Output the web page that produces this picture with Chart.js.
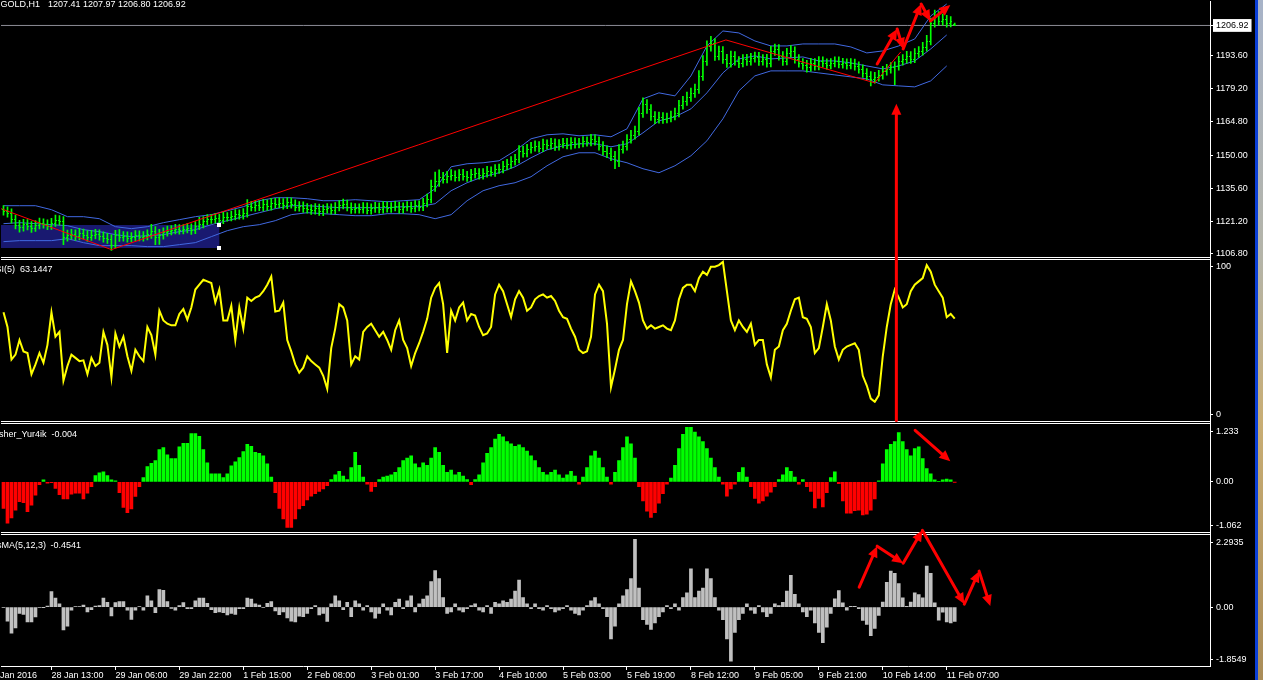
<!DOCTYPE html>
<html><head>
<meta charset="UTF-8">
<title>GOLD,H1</title>
<script src="https://cdn.jsdelivr.net/npm/chart.js"></script>
<style>
  html, body { margin: 0; padding: 0; background: #000; overflow: hidden; }
  #wrap { position: relative; width: 1263px; height: 680px; }
  #chart { position: absolute; left: 0; top: 0; }
  #edge { position: absolute; left: 1255px; top: 0; width: 8px; height: 680px;
    background: linear-gradient(to right, #0b3fd6 0, #0b3fd6 3px, transparent 3px),
                linear-gradient(to bottom, #a7b3c8 0%, #b4b4a8 38%, #c8ad74 62%, #a98c58 100%); }
</style>
</head>
<body>
<div id="wrap"><canvas id="chart" width="1255" height="680"></canvas><div id="edge"></div></div>
<script>
// ---- time axis (bar index of each label) ----
const timeTickIdx = [-4, 12, 28, 44, 60, 76, 92, 108, 124, 140, 156, 172, 188, 204, 220, 236];
const timeLabels = ['27 Jan 2016', '28 Jan 13:00', '29 Jan 06:00', '29 Jan 22:00', '1 Feb 15:00',
  '2 Feb 08:00', '3 Feb 01:00', '3 Feb 17:00', '4 Feb 10:00', '5 Feb 03:00', '5 Feb 19:00',
  '8 Feb 12:00', '9 Feb 05:00', '9 Feb 21:00', '10 Feb 14:00', '11 Feb 07:00'];

// ---- right scale labels ----
const priceTicks = [1206.92, 1193.60, 1179.20, 1164.80, 1150.00, 1135.60, 1121.20, 1106.80];
const rsiTicks = [95.3, 4.3];
const rsiTickLabels = ['100', '0'];
const fishTicks = [1.071, 0, -0.930];
const fishTickLabels = ['1.233', '0.00', '-1.062'];
const osmaTicks = [2.042, 0, -1.644];
const osmaTickLabels = ['2.2935', '0.00', '-1.8549'];

// ---- GOLD H1 bars ----
const open = [
  1126.3,1125.6,1124.8,1122.1,1119.5,1118.6,1119.9,1119.1,1118.2,1119.5,
  1120.4,1119.9,1119.1,1120.4,1121.7,1121.3,1114.3,1115.1,1115.6,1114.7,
  1116.0,1115.1,1114.3,1115.1,1115.6,1114.7,1113.8,1113.4,1110.7,1115.1,
  1114.3,1114.7,1113.8,1114.3,1115.1,1114.3,1114.7,1115.6,1116.9,1114.3,
  1115.1,1116.4,1116.9,1117.3,1117.8,1117.3,1117.8,1118.2,1117.3,1119.1,
  1119.9,1121.3,1122.1,1122.1,1122.6,1121.7,1123.0,1123.0,1123.5,1124.3,
  1123.9,1124.8,1127.8,1127.4,1128.3,1127.4,1128.7,1127.8,1129.2,1128.7,
  1129.2,1128.3,1129.6,1128.7,1127.4,1127.8,1126.9,1126.5,1126.1,1126.9,
  1125.6,1126.5,1126.9,1126.1,1127.4,1128.3,1128.7,1127.4,1126.5,1126.9,
  1126.5,1127.4,1126.1,1126.9,1127.4,1126.5,1127.8,1126.9,1127.4,1127.8,
  1126.5,1127.4,1127.8,1126.9,1128.3,1127.4,1129.2,1130.9,1136.6,1138.8,
  1140.6,1139.7,1141.0,1141.4,1140.6,1141.9,1141.0,1140.6,1141.9,1142.3,
  1141.4,1142.3,1143.2,1142.7,1144.1,1144.1,1145.4,1146.2,1147.6,1148.4,
  1152.0,1151.1,1152.8,1153.7,1154.1,1153.3,1155.0,1154.6,1155.5,1154.1,
  1155.0,1155.5,1154.6,1155.9,1155.0,1155.5,1156.3,1155.9,1157.2,1156.3,
  1154.1,1152.0,1151.1,1149.8,1147.6,1152.8,1154.1,1157.2,1159.0,1160.7,
  1168.6,1172.6,1170.4,1167.3,1166.0,1166.9,1166.0,1166.4,1167.3,1168.6,
  1172.1,1173.9,1175.6,1177.4,1179.1,1184.8,1191.4,1198.0,1199.3,1193.6,
  1195.8,1192.3,1190.5,1193.6,1191.4,1190.5,1192.3,1191.4,1192.7,1193.2,
  1191.4,1192.3,1190.5,1195.8,1196.7,1193.6,1191.4,1194.9,1195.8,1192.3,
  1190.5,1189.7,1188.8,1190.5,1189.2,1191.4,1190.5,1189.7,1190.5,1191.4,
  1190.1,1190.5,1189.7,1190.5,1189.2,1187.9,1186.1,1184.8,1183.5,1184.4,
  1185.3,1187.0,1187.9,1188.8,1189.2,1191.4,1192.3,1193.6,1192.3,1194.9,
  1195.8,1197.5,1200.2,1208.1,1211.1,1208.9,1209.8,1208.1,1207.41];
const high = [
  1128.0,1127.4,1126.5,1123.8,1121.5,1122.0,1121.8,1121.0,1121.4,1122.5,
  1122.2,1121.7,1122.4,1123.8,1123.6,1123.1,1117.2,1117.6,1117.4,1118.0,
  1117.7,1117.0,1117.1,1117.6,1117.3,1116.5,1115.8,1115.2,1117.1,1117.5,
  1116.6,1116.5,1116.1,1117.0,1116.9,1116.6,1117.4,1119.8,1118.8,1117.6,
  1118.2,1119.0,1119.2,1119.8,1119.6,1119.7,1120.2,1120.0,1121.0,1122.8,
  1123.1,1124.0,1124.1,1124.6,1124.3,1125.0,1124.9,1125.6,1126.2,1126.1,
  1126.7,1130.6,1129.8,1130.2,1130.1,1130.7,1130.5,1131.2,1131.1,1131.4,
  1131.0,1131.5,1131.4,1130.5,1129.7,1129.6,1128.8,1128.4,1128.8,1128.6,
  1128.3,1128.8,1128.7,1129.3,1130.2,1130.8,1130.4,1129.2,1128.8,1128.7,
  1129.3,1129.2,1128.7,1129.4,1129.2,1129.7,1129.6,1129.3,1129.8,1129.5,
  1129.2,1129.7,1129.5,1130.2,1130.1,1131.1,1133.0,1139.1,1142.7,1143.6,
  1142.5,1143.0,1143.7,1143.2,1143.8,1143.9,1143.0,1143.9,1144.3,1144.2,
  1144.2,1145.2,1145.0,1146.0,1146.2,1147.4,1148.2,1149.5,1150.4,1154.3,
  1154.1,1154.8,1155.7,1156.4,1156.0,1157.1,1156.8,1157.5,1157.2,1156.9,
  1157.5,1157.4,1157.8,1157.7,1157.4,1158.2,1158.1,1159.2,1159.0,1158.1,
  1156.0,1154.2,1153.2,1151.8,1154.7,1156.2,1159.1,1161.0,1162.8,1171.0,
  1175.2,1174.4,1172.2,1169.2,1169.0,1168.7,1168.5,1169.4,1170.7,1174.1,
  1175.9,1177.7,1179.5,1181.2,1187.1,1193.7,1200.2,1202.2,1201.2,1197.9,
  1197.7,1194.3,1195.7,1195.5,1193.3,1194.2,1194.3,1194.7,1195.2,1195.1,
  1194.2,1194.3,1197.8,1198.8,1198.5,1195.5,1196.9,1198.1,1197.6,1194.2,
  1192.4,1191.6,1192.5,1192.4,1193.3,1193.2,1192.3,1192.4,1193.2,1193.2,
  1192.5,1192.3,1192.4,1192.2,1191.0,1189.7,1188.0,1186.7,1186.4,1187.2,
  1189.0,1189.9,1190.7,1191.0,1193.4,1194.2,1195.6,1195.5,1196.8,1197.7,
  1199.5,1202.6,1210.2,1213.7,1213.0,1211.9,1211.4,1210.8,1207.97];
const low = [
  1123.8,1122.9,1120.3,1117.7,1116.3,1116.8,1117.3,1116.2,1116.6,1117.8,
  1118.1,1117.4,1117.5,1118.8,1119.4,1110.8,1112.4,1113.3,1112.7,1112.9,
  1113.4,1112.3,1112.7,1113.4,1112.8,1111.9,1111.4,1108.3,1109.4,1112.3,
  1112.4,1111.9,1112.0,1112.6,1112.5,1112.4,1112.9,1113.6,1110.8,1110.9,
  1113.3,1114.6,1115.1,1115.5,1115.4,1115.5,1116.0,1115.3,1115.7,1117.4,
  1118.2,1119.6,1120.2,1120.3,1119.8,1120.0,1121.1,1121.2,1121.7,1122.0,
  1122.0,1122.9,1125.6,1125.5,1125.7,1125.6,1125.9,1126.0,1126.8,1126.9,
  1126.4,1126.6,1126.8,1125.6,1125.5,1125.0,1124.6,1124.1,1124.2,1123.7,
  1123.6,1124.7,1124.2,1124.3,1125.6,1126.5,1125.6,1124.5,1124.7,1124.6,
  1124.7,1124.3,1124.2,1125.0,1124.7,1124.6,1125.1,1125.0,1125.6,1124.6,
  1124.7,1125.6,1125.0,1125.2,1125.6,1125.7,1127.4,1129.1,1134.2,1136.4,
  1137.8,1137.9,1139.1,1138.7,1138.8,1139.1,1138.6,1138.8,1140.0,1139.5,
  1139.6,1140.4,1140.9,1140.8,1142.1,1142.3,1143.6,1144.4,1145.7,1146.7,
  1149.2,1149.3,1150.9,1151.8,1151.4,1151.6,1152.7,1152.7,1152.2,1152.3,
  1153.2,1152.8,1152.7,1153.1,1153.3,1153.7,1154.0,1154.1,1154.4,1152.3,
  1150.1,1149.0,1147.7,1144.2,1145.0,1150.9,1152.3,1155.3,1157.1,1158.8,
  1166.6,1168.4,1165.3,1163.9,1164.1,1164.0,1164.2,1164.6,1165.5,1166.8,
  1170.2,1171.9,1173.6,1175.4,1177.1,1182.8,1189.4,1195.6,1191.6,1191.8,
  1190.3,1188.5,1188.6,1189.5,1188.4,1188.7,1189.4,1189.5,1190.8,1189.4,
  1189.5,1188.6,1188.7,1193.8,1191.7,1189.4,1189.6,1193.0,1190.4,1188.6,
  1187.7,1186.4,1186.9,1187.3,1187.4,1188.6,1187.8,1187.9,1188.7,1188.3,
  1188.2,1187.8,1187.9,1187.3,1186.0,1184.2,1182.9,1180.4,1181.6,1182.5,
  1183.4,1185.1,1186.0,1181.0,1187.3,1189.5,1190.4,1190.3,1190.6,1192.9,
  1193.9,1195.7,1198.4,1206.2,1207.0,1207.0,1206.2,1206.3,1206.80];
const close = [
  1125.6,1124.8,1122.1,1119.5,1118.6,1119.9,1119.1,1118.2,1119.5,1120.4,
  1119.9,1119.1,1120.4,1121.7,1121.3,1114.3,1115.1,1115.6,1114.7,1116.0,
  1115.1,1114.3,1115.1,1115.6,1114.7,1113.8,1113.4,1110.7,1115.1,1114.3,
  1114.7,1113.8,1114.3,1115.1,1114.3,1114.7,1115.6,1116.9,1114.3,1115.1,
  1116.4,1116.9,1117.3,1117.8,1117.3,1117.8,1118.2,1117.3,1119.1,1119.9,
  1121.3,1122.1,1122.1,1122.6,1121.7,1123.0,1123.0,1123.5,1124.3,1123.9,
  1124.8,1127.8,1127.4,1128.3,1127.4,1128.7,1127.8,1129.2,1128.7,1129.2,
  1128.3,1129.6,1128.7,1127.4,1127.8,1126.9,1126.5,1126.1,1126.9,1125.6,
  1126.5,1126.9,1126.1,1127.4,1128.3,1128.7,1127.4,1126.5,1126.9,1126.5,
  1127.4,1126.1,1126.9,1127.4,1126.5,1127.8,1126.9,1127.4,1127.8,1126.5,
  1127.4,1127.8,1126.9,1128.3,1127.4,1129.2,1130.9,1136.6,1138.8,1140.6,
  1139.7,1141.0,1141.4,1140.6,1141.9,1141.0,1140.6,1141.9,1142.3,1141.4,
  1142.3,1143.2,1142.7,1144.1,1144.1,1145.4,1146.2,1147.6,1148.4,1152.0,
  1151.1,1152.8,1153.7,1154.1,1153.3,1155.0,1154.6,1155.5,1154.1,1155.0,
  1155.5,1154.6,1155.9,1155.0,1155.5,1156.3,1155.9,1157.2,1156.3,1154.1,
  1152.0,1151.1,1149.8,1147.6,1152.8,1154.1,1157.2,1159.0,1160.7,1168.6,
  1172.6,1170.4,1167.3,1166.0,1166.9,1166.0,1166.4,1167.3,1168.6,1172.1,
  1173.9,1175.6,1177.4,1179.1,1184.8,1191.4,1198.0,1199.3,1193.6,1195.8,
  1192.3,1190.5,1193.6,1191.4,1190.5,1192.3,1191.4,1192.7,1193.2,1191.4,
  1192.3,1190.5,1195.8,1196.7,1193.6,1191.4,1194.9,1195.8,1192.3,1190.5,
  1189.7,1188.8,1190.5,1189.2,1191.4,1190.5,1189.7,1190.5,1191.4,1190.1,
  1190.5,1189.7,1190.5,1189.2,1187.9,1186.1,1184.8,1183.5,1184.4,1185.3,
  1187.0,1187.9,1188.8,1189.2,1191.4,1192.3,1193.6,1192.3,1194.9,1195.8,
  1197.5,1200.2,1208.1,1211.1,1208.9,1209.8,1208.1,1208.9,1206.92];

// ---- Bollinger bands, read every 4th bar ----
const bandStep = 4;
const bandUpper = [
  1127.92,1127.92,1127.92,1126.17,1123.11,1123.11,1122.23,1118.73,1117.86,1118.73,
  1120.48,1121.80,1123.11,1123.99,1125.74,1127.49,1130.11,1131.42,1131.42,1130.99,
  1130.11,1130.11,1130.55,1130.11,1129.67,1130.11,1130.55,1135.36,1144.99,1146.30,
  1146.74,1147.62,1151.99,1157.25,1159.00,1159.43,1158.56,1159.00,1158.12,1161.62,
  1174.75,1177.38,1176.06,1184.82,1197.95,1204.51,1203.64,1200.13,1197.95,1197.95,
  1198.82,1198.82,1198.82,1197.51,1194.88,1195.76,1197.95,1201.01,1211.08,1216.33];
const bandMiddle = [
  1120.05,1120.48,1120.05,1119.61,1119.17,1117.42,1116.54,1115.23,1114.36,1114.79,
  1115.23,1116.54,1117.42,1119.61,1121.36,1123.11,1124.86,1126.61,1127.92,1127.92,
  1127.49,1127.05,1127.05,1127.05,1127.05,1127.49,1127.49,1128.80,1134.49,1137.99,
  1140.62,1142.37,1144.99,1148.93,1152.43,1154.18,1155.06,1155.06,1153.74,1155.06,
  1159.87,1165.12,1166.87,1170.37,1177.38,1186.13,1192.26,1193.57,1192.26,1192.69,
  1193.13,1191.38,1191.38,1190.51,1189.19,1187.88,1189.19,1191.38,1196.63,1202.76];
const bandLower = [
  1112.17,1112.61,1112.61,1112.61,1113.48,1111.73,1110.42,1110.42,1110.42,1109.98,
  1109.98,1110.86,1111.73,1114.36,1116.98,1118.73,1119.61,1121.36,1123.99,1124.86,
  1124.42,1123.99,1123.55,1123.55,1124.42,1124.42,1123.99,1122.23,1123.99,1130.11,
  1134.49,1136.68,1137.99,1140.62,1145.43,1149.37,1151.12,1151.12,1148.50,1146.74,
  1144.12,1142.37,1145.43,1149.81,1156.37,1166.00,1178.25,1184.82,1187.01,1187.01,
  1187.01,1186.13,1185.25,1184.38,1183.50,1180.88,1180.44,1180.00,1182.63,1189.19];

// ---- RSI(5) ----
const rsi = [
  67,58,38,41,50,43,42,29,35,42, 36,47,67,52,55,25,34,41,39,37,
  37.5,29,39,34,36,55,47,27,54,46, 52,40,31,44,40,37,58,53,41,68,
  62,60,59,59,66,69,62.5,70,81,84, 87,86,85,73,81,62,62,71,50,70,
  57,76,74,76,77,80,84,89,67.5,68, 73,50,43,35,30,33,40,37,35,33,
  28,20,45,57,72,70,62,35,40,38, 55,58,60,56,52,55,50,44,56,62,
  50,45,34,42,48,55,63,76,82,85, 72,42,68,62,70,73,62,66,65,58,
  53,54,58,78,84,80,72,64,75,80, 76,68,70,75,77,78,76,77,74,68,
  64,63,57,52,44,42,43,52,78,84, 80,60,21,32,44,50,72,86,80,73,
  62,57,59,57,58,59,57,56,62,75, 82,84,84,80,88,92,90,95,95,96,
  98,80,62,56,62,58,55,60,47,50, 50,35,27,44,46,56,60,68,75,76,
  64,63,58,42,45,58,72,62,46,38, 44,46,47,48,44,28,22,14,12,16,
  40,58,72,81,76,70,72,80,84,86, 88,96,92,84,80,76,64,66,63.1447];

// ---- Fisher_Yur4ik ----
const fisher = [
  -0.56,-0.87,-0.76,-0.60,-0.42,-0.44,-0.63,-0.49,-0.28,-0.06,
  0.04,-0.03,-0.02,-0.14,-0.27,-0.36,-0.36,-0.26,-0.24,-0.24,
  -0.36,-0.24,-0.10,0.13,0.19,0.21,0.13,0.04,0.02,-0.23,
  -0.54,-0.65,-0.57,-0.31,-0.10,0.09,0.32,0.39,0.45,0.68,
  0.72,0.57,0.49,0.49,0.74,0.81,0.81,1.02,1.02,0.96,
  0.68,0.40,0.17,0.17,0.17,0.09,0.17,0.34,0.42,0.51,
  0.64,0.79,0.75,0.62,0.60,0.55,0.38,0.10,-0.23,-0.56,
  -0.78,-0.96,-0.96,-0.78,-0.57,-0.50,-0.38,-0.30,-0.25,-0.20,
  -0.15,-0.08,0.05,0.15,0.22,0.12,0.05,0.30,0.62,0.35,
  0.10,-0.05,-0.20,-0.10,0.05,0.10,0.12,0.15,0.20,0.30,
  0.45,0.50,0.55,0.38,0.30,0.40,0.35,0.50,0.72,0.62,
  0.35,0.20,0.25,0.15,0.20,0.12,0.05,-0.06,0.05,0.15,
  0.40,0.60,0.72,0.90,1.00,0.95,0.85,0.80,0.75,0.78,
  0.72,0.65,0.55,0.45,0.30,0.20,0.15,0.20,0.25,0.15,
  0.08,0.15,0.22,0.12,-0.05,0.10,0.30,0.55,0.65,0.50,
  0.30,0.10,-0.05,0.20,0.45,0.72,0.95,0.80,0.50,-0.10,
  -0.40,-0.62,-0.75,-0.65,-0.45,-0.25,-0.05,0.08,0.35,0.70,
  1.00,1.15,1.15,1.05,0.95,0.85,0.70,0.50,0.30,0.10,
  -0.05,-0.30,-0.15,-0.05,0.20,0.30,0.10,-0.10,-0.35,-0.45,
  -0.40,-0.30,-0.22,-0.10,0.05,0.15,0.30,0.22,0.10,-0.05,
  0.05,-0.10,-0.20,-0.55,-0.35,-0.53,-0.23,0.09,0.21,-0.04,
  -0.40,-0.66,-0.66,-0.61,-0.60,-0.70,-0.68,-0.60,-0.36,0.02,
  0.38,0.68,0.79,0.85,1.04,0.85,0.68,0.55,0.70,0.74,
  0.49,0.28,0.17,0.04,0.01,0.04,0.06,0.04,-0.004];

// ---- OsMA(5,12,3) ----
const osma = [
  -0.02,-0.44,-0.82,-0.66,-0.20,-0.23,-0.47,-0.47,-0.31,-0.02,
  -0.01,0.03,0.49,0.28,0.10,-0.72,-0.60,-0.10,0.01,0.01,
  0.06,-0.15,-0.08,0.03,0.05,0.28,0.15,-0.28,0.14,0.17,
  0.17,-0.10,-0.39,-0.10,0.01,-0.10,0.35,0.20,-0.18,0.55,
  0.53,0.17,-0.04,-0.10,0.05,0.14,-0.05,-0.05,0.20,0.28,
  0.28,0.12,-0.08,-0.18,-0.15,-0.18,-0.25,-0.20,-0.23,-0.05,
  -0.05,0.28,0.25,0.10,0.06,-0.02,0.12,0.17,-0.12,-0.24,
  -0.15,-0.34,-0.44,-0.47,-0.29,-0.30,-0.20,-0.05,0.05,-0.25,
  -0.20,-0.45,0.10,0.35,0.20,-0.08,0.15,-0.30,0.20,0.10,
  -0.10,0.05,-0.15,-0.35,-0.20,0.10,-0.10,-0.25,0.15,0.25,
  -0.05,0.20,0.35,-0.15,0.10,0.25,0.35,0.80,1.15,0.90,
  0.30,-0.20,-0.15,0.10,-0.10,-0.15,-0.05,0.05,0.10,-0.10,
  -0.15,0.05,-0.20,0.15,0.10,0.20,0.15,0.25,0.50,0.85,
  0.30,0.10,-0.05,0.10,-0.05,-0.10,0.05,-0.05,-0.15,-0.10,
  -0.05,0.05,-0.10,-0.20,-0.25,-0.10,0.05,0.20,0.30,0.10,
  -0.05,-0.30,-1.00,-0.60,0.10,0.35,0.55,0.90,2.13,0.60,
  -0.40,-0.55,-0.70,-0.50,-0.30,-0.15,0.05,-0.05,0.10,-0.10,
  0.30,0.45,1.20,0.30,0.50,0.60,1.20,0.90,0.30,-0.10,
  -0.40,-1.00,-1.70,-0.80,-0.40,-0.20,0.10,-0.10,-0.20,0.05,
  -0.15,-0.30,-0.20,0.10,0.05,0.15,0.50,1.00,0.40,0.10,
  -0.15,-0.30,-0.10,-0.50,-0.80,-1.12,-0.63,-0.20,0.26,0.52,
  0.13,-0.10,0.02,0.02,-0.05,-0.42,-0.55,-0.90,-0.67,-0.26,
  0.16,0.78,1.13,1.06,0.74,0.29,0.02,0.16,0.45,0.39,
  0.29,1.29,1.06,0.13,-0.41,-0.16,-0.47,-0.50,-0.4541];

// ---- objects drawn on the chart (bar index, value) ----
const trendIdx = [-0.625, 27, 180.75, 218, 224.5];
const trendPrice = [1126.61, 1108.67, 1200.57, 1181.75, 1195.32];
const rectIdx = [-0.625, 54];
const rectPrice = [1109.55, 1119.61];
const arrowPrice = [[218.6, 1190.07], [223.6, 1205.39], [225.1, 1196.63], [229.6, 1216.33], [231.9, 1208.89], [236.9, 1215.89]];
const arrowFisher = [[228.1, 1.086], [236.9, 0.433]];
const arrowOsma = [[214.1, 0.628], [218.6, 1.916], [225.1, 1.382], [229.9, 2.419], [240.4, 0.094], [244.1, 1.131], [246.9, 0.031]];
const arrowUpIdx = 223.4;   // from RSI floor up into the price pane
const arrowUpRsi = 0.6;
const arrowUpPrice = 1172.56;

const font = { family: 'Liberation Sans, Arial, sans-serif', size: 9 };
const FONT = '9px "Liberation Sans", Arial, sans-serif';
const GREEN = '#00ff00', RED = '#ff0000';

function yAxis(min, max, weight, ticks, labels, extra) {
  return Object.assign({
    type: 'linear', position: 'right', stack: 'panes', stackWeight: weight,
    min: min, max: max, offset: false,
    grid: { drawOnChartArea: false, color: '#fff', tickLength: 3 },
    border: { color: '#fff' },
    ticks: { color: '#fff', font: font, padding: 3, autoSkip: false, callback: (v, i) => labels[i] },
    afterBuildTicks: s => { s.ticks = ticks.map(v => ({ value: v })); },
    afterFit: s => { s.width = 45; s.paddingTop = 0; s.paddingBottom = 0; }
  }, extra || {});
}

function drawArrow(ctx, x0, y0, x1, y1) {
  const a = Math.atan2(y1 - y0, x1 - x0), L = 11, W = 5;
  const bx = x1 - L * Math.cos(a), by = y1 - L * Math.sin(a);
  ctx.beginPath(); ctx.moveTo(x0, y0); ctx.lineTo(bx, by); ctx.stroke();
  ctx.beginPath();
  ctx.moveTo(x1, y1);
  ctx.lineTo(bx + W * Math.sin(a), by - W * Math.cos(a));
  ctx.lineTo(bx - W * Math.sin(a), by + W * Math.cos(a));
  ctx.closePath(); ctx.fill();
}

function drawChain(ctx, xs, ys, pts) {
  for (let k = 1; k < pts.length; k++) {
    drawArrow(ctx, xs.getPixelForValue(pts[k - 1][0]), ys.getPixelForValue(pts[k - 1][1]),
      xs.getPixelForValue(pts[k][0]), ys.getPixelForValue(pts[k][1]));
  }
}

const mt4 = {
  id: 'mt4',
  beforeDatasetsDraw(chart) {
    const { ctx, scales: { x, yPrice } } = chart;
    const x0 = x.getPixelForValue(rectIdx[0]), x1 = x.getPixelForValue(rectIdx[1]);
    const y0 = yPrice.getPixelForValue(rectPrice[1]), y1 = yPrice.getPixelForValue(rectPrice[0]);
    ctx.save();
    ctx.fillStyle = '#191970';
    ctx.fillRect(x0, Math.round(y0), x1 - x0, Math.round(y1 - y0));
    ctx.restore();
  },
  afterDatasetsDraw(chart) {
    const { ctx, chartArea, scales: { x, yPrice, yRsi, yFish, yOsma } } = chart;
    ctx.save();
    // open / close nubs of the bars
    ctx.fillStyle = GREEN;
    for (let i = 0; i < close.length; i++) {
      const px = Math.floor(x.getPixelForValue(i));
      ctx.fillRect(px - 1, Math.round(yPrice.getPixelForValue(open[i])), 1, 1);
      ctx.fillRect(px + 1, Math.round(yPrice.getPixelForValue(close[i])), 1, 1);
    }
    // selection handles of the rectangle
    const hx = Math.round(x.getPixelForValue(rectIdx[1]));
    ctx.fillStyle = '#fff';
    [rectPrice[1], rectPrice[0]].forEach(p => {
      ctx.fillRect(hx - 2, Math.round(yPrice.getPixelForValue(p)) - 2, 4, 4);
    });
    // pane separators (double lines)
    ctx.fillStyle = '#fff';
    [yPrice, yRsi, yFish].forEach(s => {
      const b = Math.round(s.bottom);
      ctx.fillRect(chartArea.left, b - 1, chartArea.right - chartArea.left, 1);
      ctx.fillRect(chartArea.left, b + 1, chartArea.right - chartArea.left, 1);
    });
    // pane titles
    ctx.font = FONT;
    ctx.fillStyle = '#fff';
    ctx.textBaseline = 'alphabetic';
    const n = close.length - 1;
    const titles = [
      [yPrice, 'GOLD,H1', 40, [open[n], high[n], low[n], close[n]].map(v => v.toFixed(2)).join(' '), 48, 6],
      [yRsi, 'RSI(5)', 15, rsi[n].toFixed(4), 20, 14.5],
      [yFish, 'Fisher_Yur4ik', 46.5, fisher[n].toFixed(3), 51.5, 14.5],
      [yOsma, 'OsMA(5,12,3)', 46, osma[n].toFixed(4), 50.5, 15]
    ];
    titles.forEach(([s, name, nx, val, vx, dy]) => {
      ctx.textAlign = 'right'; ctx.fillText(name, nx, s.top + dy);
      ctx.textAlign = 'left'; ctx.fillText(val, vx, s.top + dy);
    });
    // hand drawn red arrows
    ctx.strokeStyle = RED; ctx.fillStyle = RED; ctx.lineWidth = 3; ctx.lineCap = 'round';
    const ux = x.getPixelForValue(arrowUpIdx);
    drawArrow(ctx, ux, yRsi.getPixelForValue(arrowUpRsi), ux, yPrice.getPixelForValue(arrowUpPrice));
    drawChain(ctx, x, yPrice, arrowPrice);
    drawChain(ctx, x, yFish, arrowFisher);
    drawChain(ctx, x, yOsma, arrowOsma);
    ctx.restore();
  }
};

const idx = close.map((_, i) => i);
const pts = (arr, step) => arr.map((v, k) => ({ x: k * (step || 1), y: v }));

new Chart(document.getElementById('chart'), {
  type: 'bar',
  data: {
    datasets: [
      { type: 'line', data: trendIdx.map((v, k) => ({ x: v, y: trendPrice[k] })), yAxisID: 'yPrice',
        borderColor: RED, borderWidth: 1, pointRadius: 0, tension: 0 },
      { type: 'bar', data: idx.map(i => ({ x: i, y: [low[i], high[i]] })), yAxisID: 'yPrice',
        backgroundColor: GREEN, barThickness: 1, grouped: false },
      { type: 'line', data: pts(bandUpper, bandStep), yAxisID: 'yPrice', borderColor: '#4169e1', borderWidth: 1, pointRadius: 0, tension: 0 },
      { type: 'line', data: pts(bandMiddle, bandStep), yAxisID: 'yPrice', borderColor: '#4169e1', borderWidth: 1, pointRadius: 0, tension: 0 },
      { type: 'line', data: pts(bandLower, bandStep), yAxisID: 'yPrice', borderColor: '#4169e1', borderWidth: 1, pointRadius: 0, tension: 0 },
      { type: 'line', data: [{ x: -0.625, y: close[close.length - 1] }, { x: 301.875, y: close[close.length - 1] }], yAxisID: 'yPrice',
        borderColor: '#8c8c96', borderWidth: 1, pointRadius: 0 },
      { type: 'line', data: pts(rsi), yAxisID: 'yRsi', borderColor: '#ffff00', borderWidth: 2, pointRadius: 0, tension: 0 },
      { type: 'bar', data: pts(fisher), yAxisID: 'yFish', backgroundColor: fisher.map(v => v >= 0 ? GREEN : RED),
        barThickness: 3, grouped: false },
      { type: 'bar', data: pts(osma), yAxisID: 'yOsma', backgroundColor: '#c0c0c0', barThickness: 3, grouped: false }
    ]
  },
  options: {
    responsive: false, devicePixelRatio: 1, animation: false, events: [],
    layout: { padding: 0 },
    plugins: { legend: { display: false }, tooltip: { enabled: false } },
    scales: {
      x: {
        type: 'linear', position: 'bottom', min: -0.625, max: 301.875, offset: false,
        grid: { drawOnChartArea: false, color: '#fff', tickLength: 4, offset: false },
        border: { color: '#fff' },
        ticks: { color: '#fff', font: font, align: 'start', padding: 0, maxRotation: 0, autoSkip: false,
          callback: (v, i) => timeLabels[i] },
        afterBuildTicks: s => { s.ticks = timeTickIdx.map(v => ({ value: v })); },
        afterFit: s => { s.height = 14; s.paddingLeft = 0; s.paddingRight = 0; }
      },
      yPrice: yAxis(1105.17, 1217.64, 257, priceTicks, priceTicks.map(v => v.toFixed(2)), {}),
      yRsi: yAxis(-0.61, 100.61, 165, rsiTicks, rsiTickLabels),
      yFish: yAxis(-1.083, 1.254, 111, fishTicks, fishTickLabels),
      yOsma: yAxis(-1.8549, 2.325, 133, osmaTicks, osmaTickLabels)
    }
  },
  plugins: [mt4]
});

// current price label box on the price scale
const c = Chart.getChart('chart');
c.options.scales.yPrice.ticks.showLabelBackdrop = ctx => ctx.index === 0;
c.options.scales.yPrice.ticks.backdropColor = '#fff';
c.options.scales.yPrice.ticks.backdropPadding = { top: 1, bottom: 1, left: 3, right: 3 };
c.options.scales.yPrice.ticks.color = ctx => ctx.index === 0 ? '#000' : '#fff';
c.update();
</script>
</body>
</html>
